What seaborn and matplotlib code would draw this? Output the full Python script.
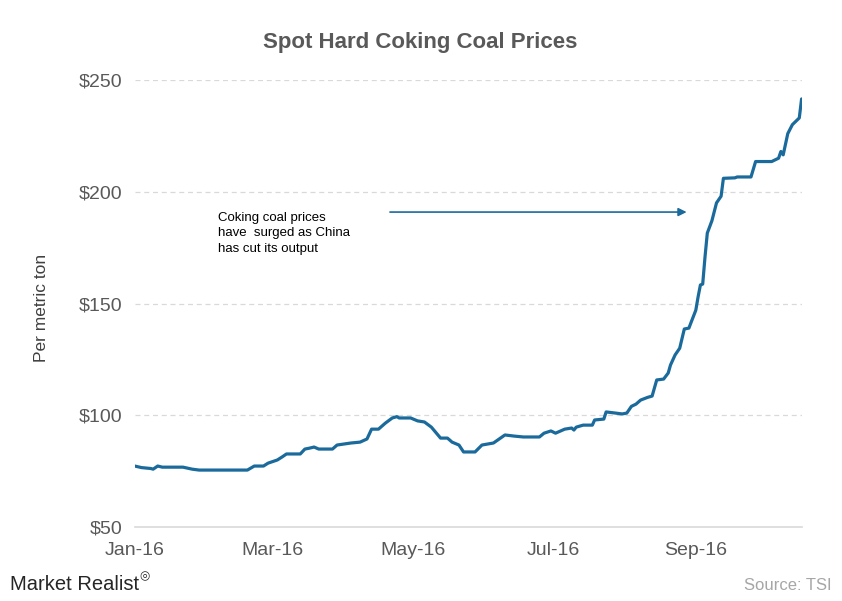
import pandas as pd
import matplotlib
matplotlib.use("Agg")
import matplotlib.pyplot as plt
import matplotlib.dates as mdates
import matplotlib.ticker as ticker
import seaborn as sns

# Spot hard coking coal price, $ per metric ton
dates = [
    "2016-01-01", "2016-01-04", "2016-01-08", "2016-01-09", "2016-01-11", "2016-01-13",
    "2016-01-22", "2016-01-26", "2016-01-29", "2016-02-19", "2016-02-22", "2016-02-26",
    "2016-02-28", "2016-03-03", "2016-03-05", "2016-03-07", "2016-03-13", "2016-03-15",
    "2016-03-17", "2016-03-19", "2016-03-21", "2016-03-27", "2016-03-29", "2016-04-04",
    "2016-04-08", "2016-04-11", "2016-04-13", "2016-04-16", "2016-04-19", "2016-04-22",
    "2016-04-24", "2016-04-25", "2016-04-30", "2016-05-03", "2016-05-06", "2016-05-09",
    "2016-05-13", "2016-05-16", "2016-05-18", "2016-05-21", "2016-05-23", "2016-05-28",
    "2016-05-31", "2016-06-05", "2016-06-10", "2016-06-14", "2016-06-18", "2016-06-25",
    "2016-06-27", "2016-06-30", "2016-07-02", "2016-07-06", "2016-07-09", "2016-07-10",
    "2016-07-11", "2016-07-14", "2016-07-18", "2016-07-19", "2016-07-23", "2016-07-24",
    "2016-07-28", "2016-07-31", "2016-08-02", "2016-08-04", "2016-08-06", "2016-08-08",
    "2016-08-11", "2016-08-13", "2016-08-15", "2016-08-18", "2016-08-20", "2016-08-21",
    "2016-08-23", "2016-08-25", "2016-08-27", "2016-08-29", "2016-08-30", "2016-09-01",
    "2016-09-02", "2016-09-03", "2016-09-04", "2016-09-05", "2016-09-06", "2016-09-08",
    "2016-09-10", "2016-09-12", "2016-09-13", "2016-09-18", "2016-09-19", "2016-09-25",
    "2016-09-27", "2016-10-04", "2016-10-07", "2016-10-08", "2016-10-09", "2016-10-11",
    "2016-10-13", "2016-10-15", "2016-10-16", "2016-10-17",
]
prices = [
    77.3, 76.6, 76.2, 75.9, 77.3, 76.8,
    76.8, 75.9, 75.5, 75.5, 77.3, 77.3,
    78.6, 80.0, 81.3, 82.7, 82.7, 84.9,
    85.3, 85.8, 84.9, 84.9, 86.7, 87.6,
    88.0, 89.4, 93.8, 93.8, 96.5, 98.8,
    99.4, 98.8, 98.8, 97.5, 97.0, 94.7,
    89.8, 89.8, 88.0, 86.7, 83.6, 83.6,
    86.7, 87.6, 91.2, 90.7, 90.3, 90.3,
    92.0, 93.0, 92.0, 93.8, 94.3, 93.4,
    94.7, 95.6, 95.6, 97.9, 98.3, 101.5,
    101.0, 100.6, 101.0, 104.0, 105.0, 106.8,
    108.0, 108.6, 115.8, 116.2, 118.9, 122.5,
    127.0, 130.0, 138.6, 139.0, 141.7, 147.0,
    153.0, 158.3, 158.7, 170.8, 181.5, 187.0,
    195.0, 198.0, 206.0, 206.2, 206.6, 206.6,
    213.5, 213.5, 215.0, 218.0, 216.5, 226.0,
    230.0, 232.0, 233.0, 241.5,
]
y_ticks = [50, 100, 150, 200, 250]

df = pd.DataFrame({"Date": pd.to_datetime(dates), "Price": prices})

sns.set_style("white")
plt.rcParams["font.family"] = ["Liberation Sans", "DejaVu Sans"]

line_color = "#1b6a9c"
grey_text = "#595959"

fig = plt.figure(figsize=(8.42, 6.01), dpi=100)
ax = fig.add_axes([0.160, 0.123, 0.792, 0.744])

sns.lineplot(data=df, x="Date", y="Price", ax=ax, color=line_color, linewidth=2.3)

ax.set_ylim(50, 250)
ax.set_xlim(pd.Timestamp("2016-01-01"), pd.Timestamp("2016-10-17"))
ax.yaxis.set_major_locator(ticker.FixedLocator(y_ticks))
ax.yaxis.set_major_formatter(ticker.FuncFormatter(lambda v, p: f"${v:.0f}"))
ax.xaxis.set_major_locator(mdates.MonthLocator(bymonth=[1, 3, 5, 7, 9]))
ax.xaxis.set_major_formatter(mdates.DateFormatter("%b-%y"))

# dashed grid above the baseline only
for v in y_ticks[1:]:
    ax.axhline(v, color="#d9d9d9", linestyle=(0, (4, 3)), linewidth=0.9, zorder=0)

for side in ["top", "right", "left"]:
    ax.spines[side].set_visible(False)
ax.spines["bottom"].set_color("#d9d9d9")
ax.spines["bottom"].set_linewidth(1.2)
ax.tick_params(axis="x", which="major", length=6, width=1, color="#d9d9d9",
               labelsize=14, labelcolor=grey_text, pad=5)
ax.tick_params(axis="y", length=0, labelsize=14, labelcolor=grey_text, pad=9)

ax.set_xlabel("")
ax.set_ylabel("Per metric ton", fontsize=12.5, color="#404040")
ax.yaxis.set_label_coords(-0.128, 0.49)

fig.text(0.499, 0.930, "Spot Hard Coking Coal Prices", ha="center", va="center",
         fontsize=16, fontweight="bold", color=grey_text)

ax.text(pd.Timestamp("2016-02-06"), 191.0,
        "Coking coal prices\nhave  surged as China\nhas cut its output",
        fontsize=9.5, color="black", va="top", ha="left", linespacing=1.4)
ax.annotate("", xy=(pd.Timestamp("2016-08-28"), 190.9),
            xytext=(pd.Timestamp("2016-04-21"), 190.9),
            arrowprops=dict(arrowstyle="-|>", color=line_color, lw=1.2,
                            mutation_scale=12, shrinkA=0, shrinkB=0))

fig.text(0.012, 0.012, "Market Realist", fontsize=14.5, color="#262626",
         ha="left", va="bottom", family=["Liberation Sans Narrow", "Liberation Sans"])
fig.text(0.172, 0.042, "\u25ce", fontsize=8.5, color="#262626", ha="center", va="center",
         family=["DejaVu Sans"])
fig.text(0.988, 0.014, "Source: TSI", fontsize=12, color="#a6a6a6",
         ha="right", va="bottom")

fig.savefig("out.png", dpi=100)
